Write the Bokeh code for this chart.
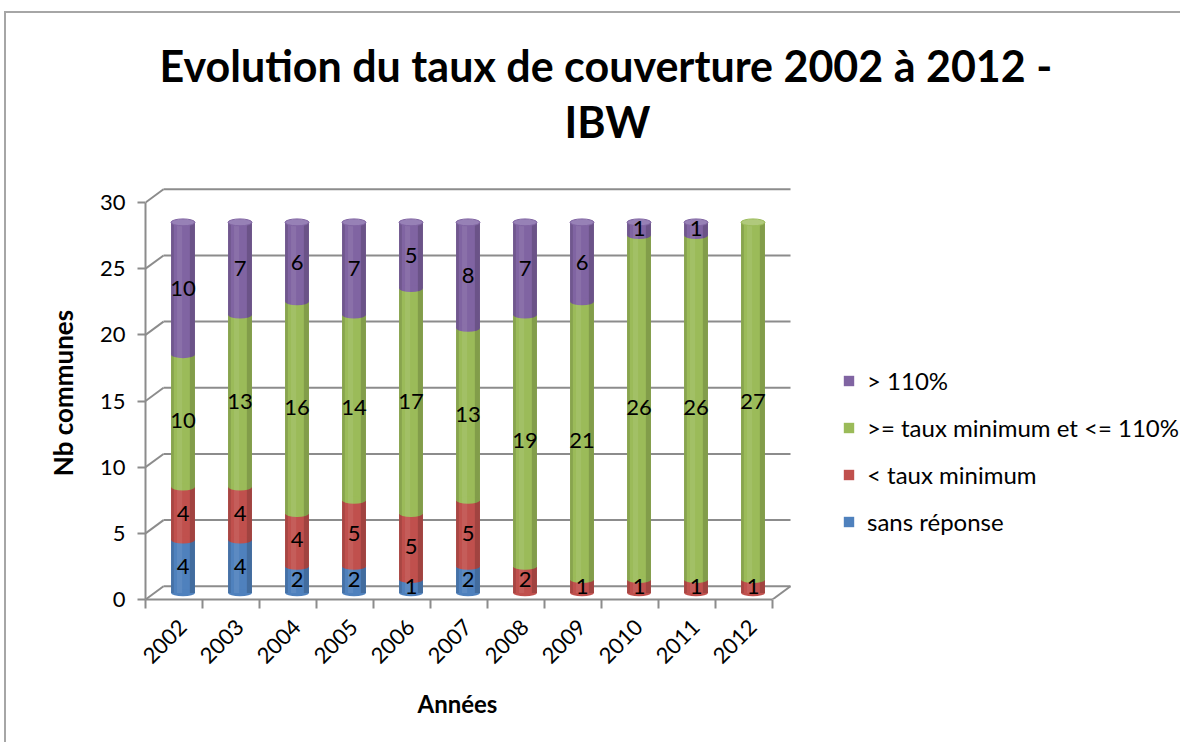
import math
from bokeh.plotting import figure
from bokeh.models import ColumnDataSource, Range1d, FixedTicker, Title, Legend, LegendItem
from bokeh.transform import dodge
from bokeh.core.properties import value
from bokeh.embed import file_html
from bokeh.resources import INLINE

# ---------------- data ----------------
years = ["2002", "2003", "2004", "2005", "2006", "2007", "2008", "2009", "2010", "2011", "2012"]
sans_reponse = [4, 4, 2, 2, 1, 2, 0, 0, 0, 0, 0]
sous_taux_min = [4, 4, 4, 5, 5, 5, 2, 1, 1, 1, 1]
taux_ok = [10, 13, 16, 14, 17, 13, 19, 21, 26, 26, 27]
sup_110 = [10, 7, 6, 7, 5, 8, 7, 6, 1, 1, 0]
series_names = ["sans réponse", "< taux minimum", ">= taux minimum et <= 110%", "> 110%"]
y_ticks = [0, 5, 10, 15, 20, 25, 30]
title_line1 = "Evolution du taux de couverture 2002 à 2012 -"
title_line2 = "IBW"
x_label = "Années"
y_label = "Nb communes"

# ---------------- style / geometry ----------------
colors = ["#4F81BD", "#C0504D", "#9BBB59", "#8064A2"]
cap_colors = ["#6f98ca", "#cf6f6c", "#b0c97c", "#9781b6"]
FONT = "Lato"
GRID = "#8c8c8c"
PX_PER_CAT = 57.0
DX = 0.316          # depth offset (x, data units)
DY = 1.0            # depth offset (y, data units)
BAR_W = 0.42
CAP_H = 0.52
n = len(years)
x_front_left = -0.5 - DX / 2
x_front_right = n - 0.5 - DX / 2
frame_w_px = 1035
x_start = x_front_left
x_end = x_start + frame_w_px / PX_PER_CAT

p = figure(width=1176, height=731, output_backend="svg", toolbar_location=None,
           x_range=Range1d(x_start, x_end), y_range=Range1d(0, 31.21),
           min_border_left=139, min_border_right=2, min_border_top=173, min_border_bottom=145)
p.styles = {"border-left": "2px solid #a6a6a6", "border-top": "2px solid #a6a6a6",
            "margin-left": "4px", "margin-top": "11px"}
p.xgrid.visible = False
p.ygrid.visible = False
p.outline_line_color = None

# ---------------- 3D frame (back wall grid, side ticks) ----------------
x0s, y0s, x1s, y1s = [], [], [], []
for v in y_ticks:
    x0s.append(x_front_left + DX); y0s.append(v + DY)
    x1s.append(x_front_right + DX); y1s.append(v + DY)
    x0s.append(x_front_left); y0s.append(v)
    x1s.append(x_front_left + DX); y1s.append(v + DY)
x0s.append(x_front_right); y0s.append(0)
x1s.append(x_front_right + DX); y1s.append(DY)
p.segment(x0=x0s, y0=y0s, x1=x1s, y1=y1s, line_color=GRID, line_width=2)

# ---------------- stacked cylinders ----------------
cum = [0] * n
all_vals = [sans_reponse, sous_taux_min, taux_ok, sup_110]
renderers = []
lab_x, lab_y, lab_t = [], [], []
for name, vals, col in zip(series_names, all_vals, colors):
    idx = [i for i in range(n) if vals[i] > 0]
    src = ColumnDataSource(dict(
        x=idx,
        bottom=[cum[i] for i in idx],
        top=[cum[i] + vals[i] for i in idx],
    ))
    r = p.vbar(x="x", bottom=dodge("bottom", DY / 2), top=dodge("top", DY / 2), width=BAR_W,
               source=src, fill_color=col, line_color=None)
    p.ellipse(x="x", y=dodge("bottom", DY / 2), width=BAR_W, height=CAP_H, source=src,
              fill_color=col, line_color=None)
    renderers.append(r)
    for i in idx:
        lab_x.append(i); lab_y.append(cum[i] + vals[i] / 2); lab_t.append(str(vals[i]))
        cum[i] += vals[i]

top_color, rim_color = [], []
for i in range(n):
    c, rc = cap_colors[0], colors[0]
    for k, vals in enumerate(all_vals):
        if vals[i] > 0:
            c, rc = cap_colors[k], colors[k]
    top_color.append(c)
    rim_color.append(rc)
stack_src = ColumnDataSource(dict(x=list(range(n)), y=cum, base=[0] * n, c=top_color, rc=rim_color))

# cylinder shading (edges darker, soft highlight)
p.vbar(x=dodge("x", -BAR_W / 2 + 0.025), bottom=dodge("base", DY / 2), top=dodge("y", DY / 2),
       width=0.05, source=stack_src, fill_color="black", fill_alpha=0.12, line_color=None)
p.vbar(x=dodge("x", BAR_W / 2 - 0.045), bottom=dodge("base", DY / 2), top=dodge("y", DY / 2),
       width=0.09, source=stack_src, fill_color="black", fill_alpha=0.16, line_color=None)
p.vbar(x=dodge("x", -0.06), bottom=dodge("base", DY / 2), top=dodge("y", DY / 2),
       width=0.09, source=stack_src, fill_color="white", fill_alpha=0.08, line_color=None)
p.ellipse(x="x", y=dodge("y", DY / 2), width=BAR_W, height=CAP_H, source=stack_src,
          fill_color="c", line_color="rc", line_width=1)

lab_src = ColumnDataSource(dict(x=lab_x, y=lab_y, t=lab_t))
p.text(x="x", y=dodge("y", DY / 2), text="t", source=lab_src, text_align="center",
       text_baseline="middle", text_font=value(FONT), text_font_size="22px", text_color="black")

# ---------------- axes ----------------
xa = p.xaxis[0]
xa.ticker = FixedTicker(ticks=list(range(n)), minor_ticks=[x_front_left + k for k in range(n + 1)])
xa.major_label_overrides = {i: years[i] for i in range(n)}
xa.bounds = (x_front_left, x_front_right)
xa.major_tick_line_color = None
xa.major_tick_out = 0
xa.major_tick_in = 0
xa.minor_tick_line_color = GRID
xa.minor_tick_line_width = 2
xa.minor_tick_out = 9
xa.minor_tick_in = 0
xa.axis_line_color = GRID
xa.axis_line_width = 2
xa.major_label_orientation = math.pi / 4
xa.major_label_standoff = 15
xa.major_label_text_font = FONT
xa.major_label_text_font_size = "22px"
xa.major_label_text_color = "black"

# x-axis title, centred under the category axis (not the whole frame)
xlab = Title(text=x_label, align="left", offset=272, vertical_align="top", standoff=30,
             text_font=FONT, text_font_size="24px", text_font_style="bold", text_color="black")
p.add_layout(xlab, "below")

ya = p.yaxis[0]
ya.ticker = FixedTicker(ticks=y_ticks)
ya.bounds = (0, 30)
ya.major_tick_out = 8
ya.major_tick_in = 0
ya.major_tick_line_color = GRID
ya.major_tick_line_width = 2
ya.minor_tick_line_color = None
ya.axis_line_color = GRID
ya.axis_line_width = 2
ya.major_label_standoff = 12
ya.major_label_text_font = FONT
ya.major_label_text_font_size = "22px"
ya.major_label_text_color = "black"
ya.axis_label = y_label
ya.axis_label_text_font = FONT
ya.axis_label_text_font_style = "bold"
ya.axis_label_text_font_size = "26px"
ya.axis_label_text_color = "black"
ya.axis_label_standoff = 18

# ---------------- legend ----------------
legend = Legend(items=[LegendItem(label=series_names[k], renderers=[renderers[k]]) for k in [3, 2, 1, 0]],
                location=(697, 63), border_line_color=None, background_fill_alpha=0,
                label_text_font=FONT, label_text_font_size="24px", label_text_color="black",
                glyph_width=13, glyph_height=13, label_standoff=12, spacing=18, padding=0, margin=0,
                label_height=29)
p.add_layout(legend)

# ---------------- titles ----------------
p.title.text = title_line1
p.title.align = "left"
p.title.offset = 14
p.title.text_font = FONT
p.title.text_font_size = "43px"
p.title.text_font_style = "bold"
p.title.text_color = "black"
p.title.standoff = 0
t2 = Title(text=title_line2, align="left", offset=419, text_font=FONT, text_font_size="43px",
           text_font_style="bold", text_color="black", standoff=7,
           padding=dict(left=0, right=0, top=0, bottom=36))
p.add_layout(t2, "above")

open("out.html", "w").write(file_html(p, INLINE))
